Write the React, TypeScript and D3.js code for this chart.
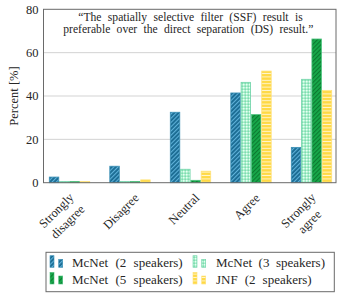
import React from "react";
import * as d3 from "d3";

const categories = [["Strongly", "disagree"], ["Disagree"], ["Neutral"], ["Agree"], ["Strongly", "agree"]];
const seriesNames = ["McNet (2 speakers)", "McNet (3 speakers)", "McNet (5 speakers)", "JNF (2 speakers)"];
const mcnet2 = [2.6, 7.6, 32.5, 41.4, 16.3];
const mcnet3 = [0, 0, 6.2, 46.3, 47.7];
const mcnet5 = [0, 0, 1.1, 31.4, 66.3];
const jnf2 = [0, 1.3, 5.3, 51.5, 42.6];
const yTicks = [0, 20, 40, 60, 80];
const titleLines = ["\u201CThe spatially selective filter (SSF) result is", "preferable over the direct separation (DS) result.\u201D"];

const series = [mcnet2, mcnet3, mcnet5, jnf2];
const strokes = ["#3a8fb5", "#6fd3a8", "#4cc27e", "#ffe27a"];
const fills = ["url(#p1)", "url(#p2)", "url(#p3)", "url(#p4)"];
const FONT = "'Liberation Serif', 'Times New Roman', Tinos, 'DejaVu Serif', serif";

function measure(t: string, size: number) {
  if (typeof document === "undefined") return t.length * size * 0.45;
  const c = document.createElement("canvas").getContext("2d");
  if (!c) return t.length * size * 0.45;
  c.font = `${size}px ${FONT}`;
  return c.measureText(t).width;
}

function wordSpacingFor(t: string, size: number, target: number) {
  const spaces = (t.match(/ /g) || []).length;
  if (!spaces) return 0;
  const w = measure(t, size);
  return Math.max(0, (target - w) / spaces);
}

export default function App() {
  const W = 351, H = 293;
  const L = 43.5, R = 336, T = 9.3, B = 182.7;
  const y = d3.scaleLinear().domain([0, 80]).range([B, T]);
  const idx = categories.map((_, i) => i);
  const x0 = d3.scalePoint<number>().domain(idx).range([L + 26, R - 24.5]);
  const x1 = d3.scaleBand<number>().domain([0, 1, 2, 3]).range([-20.2, 20.2]).paddingInner(0.08);
  const titleSpans = [[78.3, 224.4], [63.3, 250]];
  const legendSpans = [110.7, 109, 110.7, 95.7];
  const textCol = "#262626";
  const titleSize = 11.6;
  const legSize = 13;
  return (
    <svg width={W} height={H} style={{ position: "absolute", left: 0, top: 0, background: "#fff", fontFamily: FONT }}>
      <defs>
        <pattern id="p1" patternUnits="userSpaceOnUse" width="3" height="3" patternTransform="rotate(45)">
          <rect width="3" height="3" fill="#1a6b92" />
          <rect width="1.1" height="3" fill="#5fb2da" />
        </pattern>
        <pattern id="p2" patternUnits="userSpaceOnUse" width="3" height="3">
          <rect width="3" height="3" fill="#a6eecb" />
          <rect width="1.5" height="1.5" fill="#e6fff1" />
          <rect x="1.5" y="1.5" width="1.5" height="1.5" fill="#7fdcae" />
        </pattern>
        <pattern id="p3" patternUnits="userSpaceOnUse" width="3" height="3" patternTransform="rotate(45)">
          <rect width="3" height="3" fill="#17a84a" />
          <rect width="1.1" height="3" fill="#0b7a30" />
        </pattern>
        <pattern id="p4" patternUnits="userSpaceOnUse" width="4" height="3.4">
          <rect width="4" height="3.4" fill="#ffd942" />
          <rect y="1.6" width="4" height="1" fill="#fff6d0" />
        </pattern>
      </defs>
      {yTicks.slice(1, -1).map((t) => (
        <line key={t} x1={L} x2={R} y1={y(t)} y2={y(t)} stroke="#c8c8c8" strokeWidth={0.8} />
      ))}
      {series.map((vals, s) =>
        vals.map((v, i) => {
          const bx = (x0(i) as number) + (x1(s) as number);
          const h = Math.max(B - y(v), 1.2);
          return (
            <rect key={`${s}-${i}`} x={bx} y={B - h} width={x1.bandwidth()} height={h}
              fill={fills[s]} stroke={strokes[s]} strokeWidth={0.8} />
          );
        })
      )}
      <rect x={L} y={T} width={R - L} height={B - T} fill="none" stroke="#6a6a6a" strokeWidth={1} />
      {yTicks.map((t) => (
        <text key={t} x={L - 5} y={y(t)} dy="0.35em" textAnchor="end" fontSize={12.5} fill={textCol}>{t}</text>
      ))}
      <text transform={`translate(14,${(T + B) / 2}) rotate(-90)`} textAnchor="middle" fontSize={12.5} fill={textCol} dy="0.35em">Percent [%]</text>
      {titleLines.map((l, i) => (
        <text key={i} x={titleSpans[i][0]} y={20.7 + i * 12.4} fontSize={titleSize} fill={textCol}
          style={{ wordSpacing: `${wordSpacingFor(l, titleSize, titleSpans[i][1])}px` }}>{l}</text>
      ))}
      {categories.map((lines, i) => {
        const cx = x0(i) as number;
        if (lines.length === 1) {
          return (
            <text key={i} transform={`translate(${cx + 9.6},${B + 16}) rotate(-45)`} textAnchor="end" fontSize={12.5} fill={textCol}>{lines[0]}</text>
          );
        }
        const w1 = measure(lines[0], 12.5);
        return (
          <g key={i} transform={`translate(${cx + 5},${B + 15.5}) rotate(-45)`}>
            <text x={-w1 / 2} y={0} textAnchor="middle" fontSize={12.5} fill={textCol}>{lines[0]}</text>
            <text x={-w1 / 2} y={16} textAnchor="middle" fontSize={12.5} fill={textCol}>{lines[1]}</text>
          </g>
        );
      })}
      <rect x={46} y={252.3} width={288.3} height={39.4} fill="#fff" stroke="#6a6a6a" strokeWidth={1} />
      {seriesNames.map((n, s) => {
        const col = s % 2, row = Math.floor(s / 2);
        const ix = col === 0 ? 50 : 193;
        const tx = col === 0 ? 72 : 216;
        const ty = 267.3 + row * 16.7;
        return (
          <g key={s}>
            <rect x={ix} y={ty - 11.6} width={4} height={11.6} fill={fills[s]} stroke={strokes[s]} strokeWidth={0.6} />
            <rect x={ix + 8.7} y={ty - 8} width={4} height={8} fill={fills[s]} stroke={strokes[s]} strokeWidth={0.6} />
            <text x={tx} y={ty} fontSize={legSize} fill={textCol} style={{ wordSpacing: `${wordSpacingFor(n, legSize, legendSpans[s])}px` }}>{n}</text>
          </g>
        );
      })}
    </svg>
  );
}
